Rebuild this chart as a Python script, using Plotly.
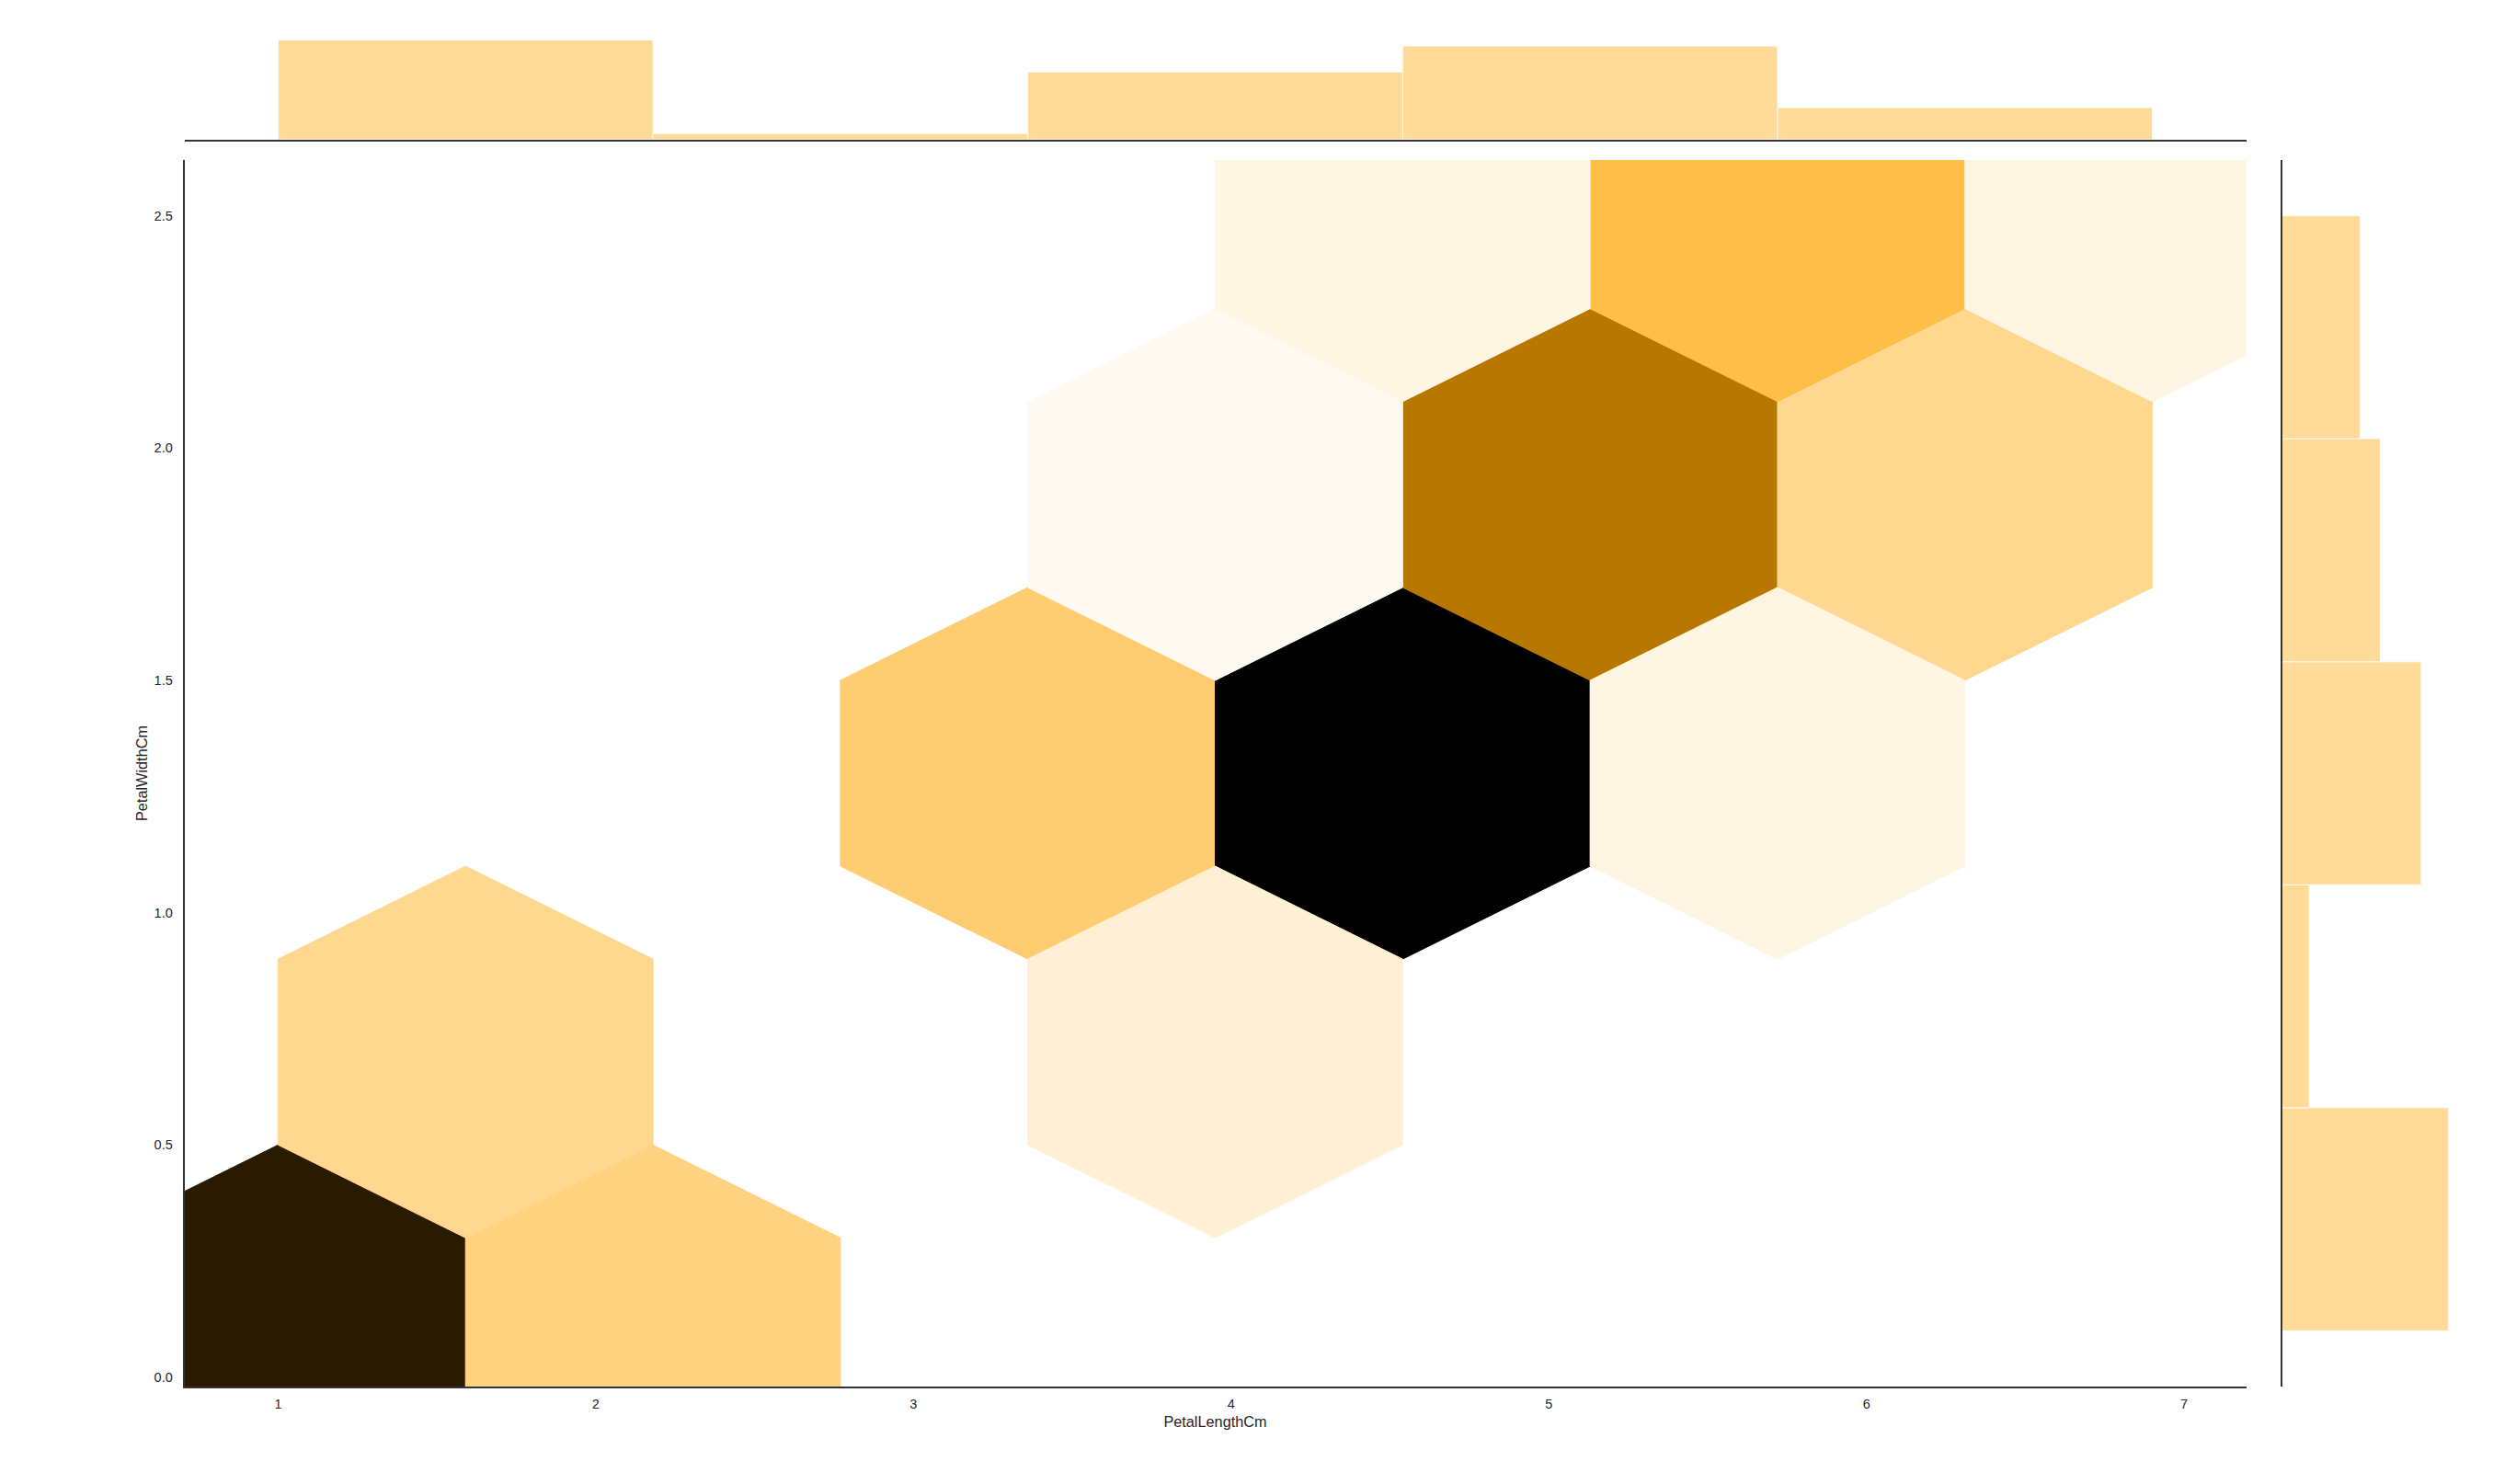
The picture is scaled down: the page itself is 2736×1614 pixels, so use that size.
import colorsys
import numpy as np
import plotly.graph_objects as go

# ---------------- data ----------------
# hexbin cells (centre positions in data units) and number of flowers per cell
hex_x = [1.00, 2.18, 1.59, 3.36, 4.54, 3.95, 5.13, 3.95, 6.31, 5.72, 4.54, 6.90, 5.72]
hex_y = [0.10, 0.10, 0.70, 1.30, 1.30, 0.70, 1.90, 1.90, 1.90, 2.50, 2.50, 2.50, 1.30]
hex_count = [33, 9, 8, 10, 36, 3, 23, 1, 8, 13, 2, 2, 2]
hex_width = 1.18      # bin width along PetalLengthCm
hex_height = 1.20     # lattice spacing along PetalWidthCm

# marginal histograms
len_edges = [1.0, 2.18, 3.36, 4.54, 5.72, 6.9]
len_counts = [50, 3, 34, 47, 16]
wid_edges = [0.1, 0.58, 1.06, 1.54, 2.02, 2.5]
wid_counts = [49, 8, 41, 29, 23]

x_ticks = [1, 2, 3, 4, 5, 6, 7]
y_ticks = [0.0, 0.5, 1.0, 1.5, 2.0, 2.5]

# ---------------- colormap (white -> orange -> black) ----------------
base = (1.0, 165 / 255, 0.0)
h, l, s = colorsys.rgb_to_hls(*base)
stops = [colorsys.hls_to_rgb(h, v, s) for v in np.linspace(1, 0, 12)]


def cmap(t):
    idx = min(int(t * 256), 255)
    pos = idx / 255 * 11
    k = min(int(pos), 10)
    f = pos - k
    c = [(1 - f) * stops[k][i] + f * stops[k + 1][i] for i in range(3)]
    return "rgb(%d,%d,%d)" % tuple(int(round(v * 255)) for v in c)


vmax = max(hex_count)

fig = go.Figure()

# hexagon outline (pointy top) relative to centre
hx = np.array([0.5, 0.5, 0.0, -0.5, -0.5, 0.0, 0.5]) * hex_width
hy = np.array([-0.5, 0.5, 1.0, 0.5, -0.5, -1.0, -0.5]) * hex_height / 3

for cx, cy, cnt in zip(hex_x, hex_y, hex_count):
    col = cmap(cnt / vmax)
    fig.add_trace(go.Scatter(
        x=cx + hx, y=cy + hy, mode="lines", fill="toself",
        fillcolor=col, line=dict(color=col, width=1),
        hoverinfo="skip", showlegend=False, xaxis="x", yaxis="y"))

bar_fill = "rgba(255,165,0,0.4)"
bar_line = "rgba(255,250,240,1)"

len_centers = [(a + b) / 2 for a, b in zip(len_edges[:-1], len_edges[1:])]
len_widths = [b - a for a, b in zip(len_edges[:-1], len_edges[1:])]
fig.add_trace(go.Bar(
    x=len_centers, y=len_counts, width=len_widths,
    marker=dict(color=bar_fill, line=dict(color=bar_line, width=1)),
    showlegend=False, xaxis="x2", yaxis="y2", hoverinfo="skip"))

wid_centers = [(a + b) / 2 for a, b in zip(wid_edges[:-1], wid_edges[1:])]
wid_widths = [b - a for a, b in zip(wid_edges[:-1], wid_edges[1:])]
fig.add_trace(go.Bar(
    y=wid_centers, x=wid_counts, width=wid_widths, orientation="h",
    marker=dict(color=bar_fill, line=dict(color=bar_line, width=1)),
    showlegend=False, xaxis="x3", yaxis="y3", hoverinfo="skip"))

x_range = [1.0 - 0.05 * 5.9, 6.9 + 0.05 * 5.9]
y_range = [0.1 - 0.05 * 2.4, 2.5 + 0.05 * 2.4]

spine = "#333333"
font = dict(family="Liberation Sans, Arial, sans-serif", size=14.5, color="#262626")

W, H = 2736, 1614
OFF_X = 6.5  # page body margin compensation
OFF_Y = 8


def xd(px):
    return (px - OFF_X) / W


def yd(py):
    return 1 - (py - OFF_Y) / H


main_x_dom = [xd(199), xd(2441)]
main_y_dom = [yd(1508), yd(174)]

fig.update_layout(
    width=W, height=H,
    margin=dict(l=0, r=0, t=0, b=0),
    paper_bgcolor="white", plot_bgcolor="white",
    font=font,
    showlegend=False,
    barmode="overlay",
    xaxis=dict(
        domain=main_x_dom, range=x_range, anchor="y",
        showline=True, linecolor=spine, linewidth=1.7,
        showgrid=False, zeroline=False,
        tickmode="array", tickvals=x_ticks, ticktext=[str(v) for v in x_ticks],
        ticks="outside", ticklen=5, tickcolor="rgba(0,0,0,0)",
        title=dict(text="PetalLengthCm", font=dict(size=16.3, color="#262626"), standoff=6),
    ),
    yaxis=dict(
        domain=main_y_dom, range=y_range, anchor="x",
        showline=True, linecolor=spine, linewidth=1.7,
        showgrid=False, zeroline=False,
        tickmode="array", tickvals=y_ticks, ticktext=["%.1f" % v for v in y_ticks],
        ticks="outside", ticklen=8, tickcolor="rgba(0,0,0,0)",
        title=dict(text="PetalWidthCm", font=dict(size=16.3, color="#262626"), standoff=3),
    ),
    xaxis2=dict(
        domain=main_x_dom, range=x_range, anchor="y2",
        showline=True, linecolor=spine, linewidth=1.7,
        showgrid=False, zeroline=False, showticklabels=False, ticks="",
    ),
    yaxis2=dict(
        domain=[yd(151.8), yd(38.2)], range=[0, 52.5], anchor="x2",
        showline=False, showgrid=False, zeroline=False, showticklabels=False, ticks="",
    ),
    xaxis3=dict(
        domain=[xd(2480), xd(2670)], range=[0, 51.45], anchor="y3",
        showline=False, showgrid=False, zeroline=False, showticklabels=False, ticks="",
    ),
    yaxis3=dict(
        domain=main_y_dom, range=y_range, anchor="x3",
        showline=True, linecolor=spine, linewidth=1.7,
        showgrid=False, zeroline=False, showticklabels=False, ticks="",
    ),
)

fig.write_html("out.html")
